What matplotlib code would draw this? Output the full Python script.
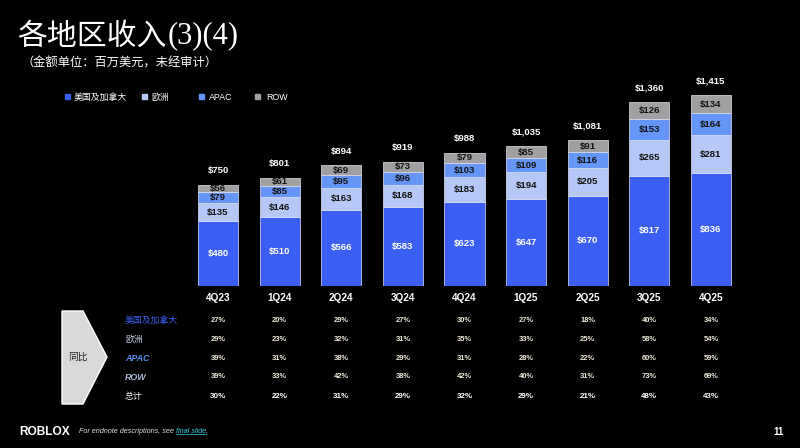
import matplotlib
matplotlib.use("Agg")
import matplotlib.pyplot as plt
from matplotlib.patches import Polygon, Rectangle
from matplotlib.transforms import blended_transform_factory

plt.rcParams['font.family'] = ['Liberation Sans', 'Noto Sans CJK SC', 'DejaVu Sans']

quarters = ["4Q23", "1Q24", "2Q24", "3Q24", "4Q24", "1Q25", "2Q25", "3Q25", "4Q25"]
us_canada = [480, 510, 566, 583, 623, 647, 670, 817, 836]
europe = [135, 146, 163, 168, 183, 194, 205, 265, 281]
apac = [79, 85, 95, 96, 103, 109, 116, 153, 164]
row = [56, 61, 69, 73, 79, 85, 91, 126, 134]
totals = [750, 801, 894, 919, 988, 1035, 1081, 1360, 1415]

series_names = ["美国及加拿大", "欧洲", "APAC", "ROW"]
yoy_labels = ["美国及加拿大", "欧洲", "APAC", "ROW", "总计"]
yoy_us = ["27%", "20%", "29%", "27%", "30%", "27%", "18%", "40%", "34%"]
yoy_eu = ["29%", "23%", "32%", "31%", "35%", "33%", "25%", "58%", "54%"]
yoy_apac = ["39%", "31%", "38%", "29%", "31%", "28%", "22%", "60%", "59%"]
yoy_row = ["39%", "33%", "42%", "38%", "42%", "40%", "31%", "73%", "69%"]
yoy_total = ["30%", "22%", "31%", "29%", "32%", "29%", "21%", "48%", "43%"]

colors = ["#3b5ff5", "#b5c8f7", "#6595f6", "#a0a0a0"]
text_colors = ["white", "#111111", "#111111", "#111111"]

W, H = 800, 448
fig = plt.figure(figsize=(W / 100, H / 100), dpi=100, facecolor="black")


def fx(x):
    return x / W


def fy(y):
    return 1 - y / H


CJK = ['Noto Sans CJK SC', 'DejaVu Sans']

# Title
t1 = fig.text(fx(17), fy(36), "各地区收入", color="white", fontsize=21.5,
              family=CJK, va="center", ha="left")
fig.canvas.draw()
bb = t1.get_window_extent()
fig.text(bb.x1 / W + 1 / W, fy(36), "(3)(4)", color="white", fontsize=22,
         family=['Liberation Serif'], va="center", ha="left")
fig.text(fx(22), fy(63), "（金额单位：百万美元，未经审计）", color="white",
         fontsize=8.8, family=CJK, va="center", ha="left")

# Legend
leg_sq_x = [65, 142, 199, 255]
leg_tx_x = [74, 151, 209, 266]
for name, c, sx, tx in zip(series_names, colors, leg_sq_x, leg_tx_x):
    fig.patches.append(Rectangle((fx(sx), fy(99.5)), 5 / W, 5 / H, color=c,
                                 transform=fig.transFigure, figure=fig))
    fig.text(fx(tx), fy(97), name, color="white", fontsize=6.4,
             ha="left", va="center")

# Bars
ax = fig.add_axes([0.234, 0.3616, 0.69325, 0.4821])
ax.set_facecolor("black")
ax.set_xlim(-0.5, 8.5)
ax.set_ylim(0, 1600)
ax.axis("off")

x = list(range(len(quarters)))
bottom = [0] * len(quarters)
for vals, c, tc in zip([us_canada, europe, apac, row], colors, text_colors):
    ax.bar(x, vals, bottom=bottom, width=0.65, color=c,
           edgecolor="#dfe5f5", linewidth=0.5)
    for i, v in enumerate(vals):
        ax.text(i, bottom[i] + v / 2, f"${v}", color=tc, fontsize=6.8,
                fontweight="bold", ha="center", va="center")
    bottom = [b + v for b, v in zip(bottom, vals)]

for i, t in enumerate(totals):
    ax.annotate(f"${t:,}", (i, bottom[i]), xytext=(0, 14),
                textcoords="offset pixels", color="white", fontsize=6.8,
                fontweight="bold", ha="center", va="center")
    ax.annotate(quarters[i], (i, 0), xytext=(0, -12),
                textcoords="offset pixels", color="white", fontsize=7.2,
                fontweight="bold", ha="center", va="center")

# YoY table
arrow = Polygon([(fx(62), fy(311)), (fx(83), fy(311)), (fx(107), fy(357)),
                 (fx(83), fy(404)), (fx(62), fy(404))], closed=True,
                facecolor="#d9d9d9", edgecolor="white", linewidth=1,
                transform=fig.transFigure, figure=fig)
fig.patches.append(arrow)
fig.text(fx(78), fy(357), "同比", color="#222222", fontsize=7,
         family=CJK, ha="center", va="center")

row_y = [320, 339, 358, 377, 396]
label_styles = [
    dict(color="#3d5ef0", style="normal", weight="normal"),
    dict(color="#c9d1e8", style="normal", weight="normal"),
    dict(color="#5b8ef5", style="italic", weight="bold"),
    dict(color="#a9b6d6", style="italic", weight="bold"),
    dict(color="white", style="normal", weight="normal"),
]
for lab, y, st in zip(yoy_labels, row_y, label_styles):
    fig.text(fx(125), fy(y), lab, color=st["color"], fontsize=6.4,
             fontstyle=st["style"], fontweight=st["weight"],
             ha="left", va="center")

trans = blended_transform_factory(ax.transData, fig.transFigure)
for ri, (vals, y) in enumerate(zip([yoy_us, yoy_eu, yoy_apac, yoy_row, yoy_total], row_y)):
    for i, v in enumerate(vals):
        fig.text(i, fy(y), v, transform=trans,
                 color="#efe9da" if ri < 4 else "white",
                 fontsize=5.4 if ri < 4 else 5.8, fontweight="bold",
                 ha="center", va="center")

# Footer
fig.text(fx(19), fy(432), "ROBLOX", color="white", fontsize=8.6,
         fontweight="bold", ha="left", va="center")
f1 = fig.text(fx(79), fy(431), "For endnote descriptions, see ", color="#dddddd",
              fontsize=5.2, fontstyle="italic", ha="left", va="center")
fig.canvas.draw()
b1 = f1.get_window_extent()
f2 = fig.text(b1.x1 / W, fy(431), "final slide", color="#3fcfdf",
              fontsize=5.2, fontstyle="italic", ha="left", va="center")
fig.canvas.draw()
b2 = f2.get_window_extent()
fig.lines.append(plt.Line2D([b2.x0 / W, b2.x1 / W], [b2.y0 / H + 0.5 / H] * 2,
                            color="#3fcfdf", linewidth=0.5,
                            transform=fig.transFigure, figure=fig))
fig.text(b2.x1 / W, fy(431), ".", color="#dddddd", fontsize=5.2,
         fontstyle="italic", ha="left", va="center")
fig.text(fx(778), fy(432), "11", color="white", fontsize=7, fontweight="bold",
         ha="center", va="center")

fig.savefig("out.png", dpi=100, facecolor="black")
